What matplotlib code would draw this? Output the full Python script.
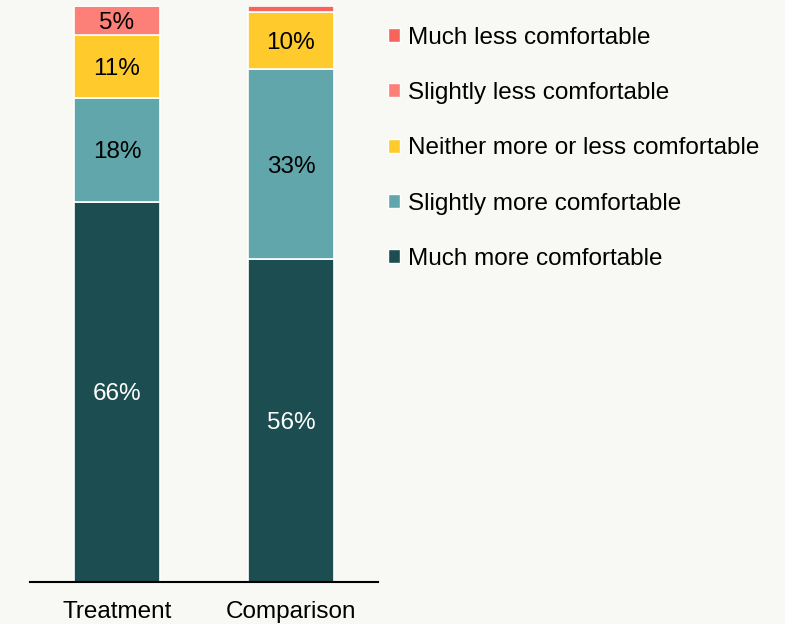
import matplotlib
matplotlib.use("Agg")
import matplotlib.pyplot as plt
from matplotlib.patches import Patch

plt.rcParams['font.family'] = ['Liberation Sans', 'DejaVu Sans']

groups = ["Treatment", "Comparison"]
categories = ["Much more comfortable", "Slightly more comfortable",
              "Neither more or less comfortable", "Slightly less comfortable",
              "Much less comfortable"]
values = {
    "Much more comfortable": [66, 56],
    "Slightly more comfortable": [18, 33],
    "Neither more or less comfortable": [11, 10],
    "Slightly less comfortable": [5, 0],
    "Much less comfortable": [0, 1],
}
colors = ["#1c4d50", "#61a6aa", "#ffca2b", "#fc7f78", "#f6655a"]
text_colors = ["white", "black", "black", "black", "black"]
bg = "#f8f8f4"
FS = 17.5

fig = plt.figure(figsize=(7.85, 6.24), dpi=100, facecolor=bg)
ax = fig.add_axes([30/785, 42/624, 348/785, 576/624])
ax.set_facecolor(bg)

x = list(range(len(groups)))
bottom = [0, 0]
for cat, col, tc in zip(categories, colors, text_colors):
    vals = values[cat]
    ax.bar(x, vals, width=0.49, bottom=bottom, color=col,
           edgecolor="white", linewidth=1.2)
    for i, v in enumerate(vals):
        if v >= 5:
            ax.text(x[i], bottom[i] + v / 2, f"{v}%", ha="center",
                    va="center_baseline", color=tc, fontsize=FS)
    bottom = [b + v for b, v in zip(bottom, vals)]

ax.set_xlim(-0.5, 1.5)
ax.set_ylim(0, 100)
ax.set_xticks(x)
ax.set_xticklabels(groups, fontsize=FS)
ax.tick_params(axis="x", length=0, pad=14)
ax.set_yticks([])
for s in ["top", "right", "left"]:
    ax.spines[s].set_visible(False)
ax.spines["bottom"].set_linewidth(1.5)
ax.spines["bottom"].set_color("black")

handles = [Patch(facecolor=c, edgecolor="white", label=cat)
           for cat, c in zip(categories[::-1], colors[::-1])]
fig.legend(handles=handles, loc="upper left", bbox_to_anchor=(378/785, 1 - 17/624),
           frameon=False, fontsize=FS, handlelength=0.5, handleheight=0.5,
           handletextpad=0.32, labelspacing=1.37, borderaxespad=0)

fig.savefig("out.png", dpi=100, facecolor=bg)
